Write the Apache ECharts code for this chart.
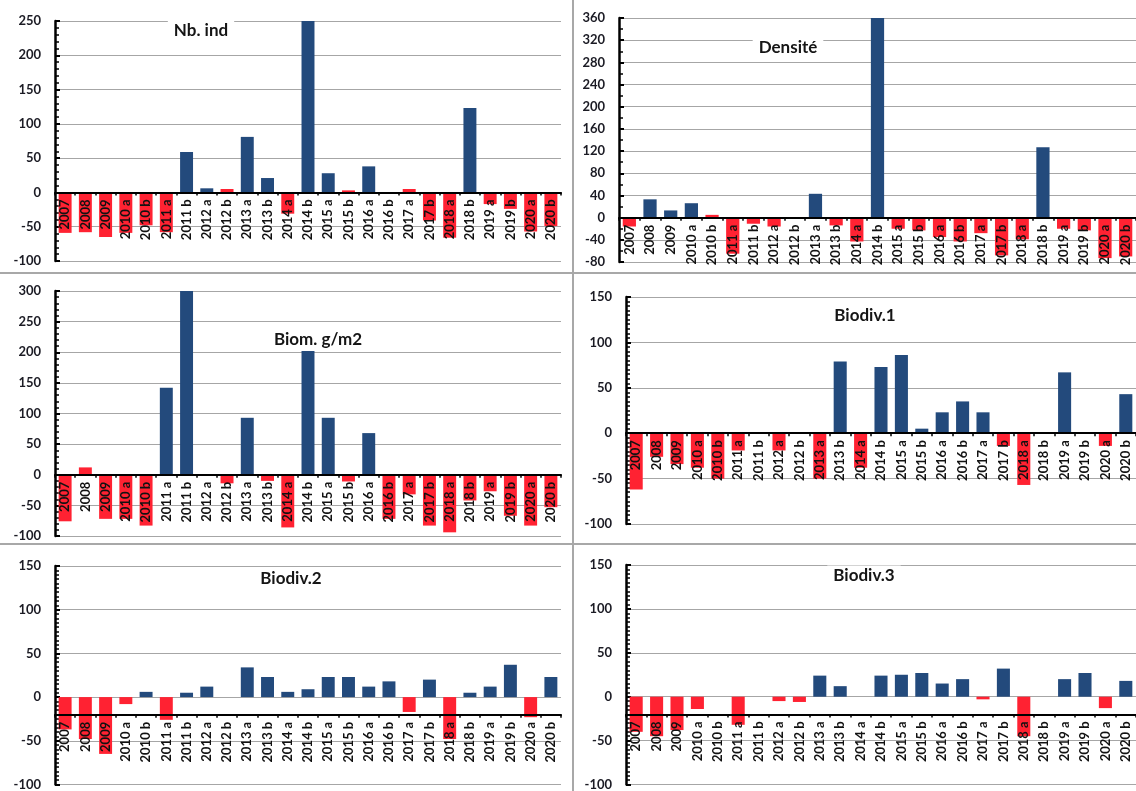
<!DOCTYPE html>
<html>
<head>
<meta charset="utf-8">
<script src="https://cdn.jsdelivr.net/npm/echarts@6/dist/echarts.min.js"></script>
<style>
  html, body { margin: 0; padding: 0; background: #fff; }
  #chart { width: 1136px; height: 791px; }
</style>
</head>
<body>
<div id="chart"></div>
<script>
// Campaigns (yearly, then two campaigns a/b per year from 2010)
const categories = ['2007', '2008', '2009', '2010 a', '2010 b', '2011 a', '2011 b', '2012 a', '2012 b',
  '2013 a', '2013 b', '2014 a', '2014 b', '2015 a', '2015 b', '2016 a', '2016 b', '2017 a', '2017 b',
  '2018 a', '2018 b', '2019 a', '2019 b', '2020 a', '2020 b'];

// Variation (%) per campaign, and alert flag (1 = flagged campaign)
const nbIndValues   = [-59, -58, -65, -59, -48, -58, 59, 6, 5, 81, 21, -31, 250, 28, 3, 38, 0, 5, -41, -66, 123, -17, -24, -57, -49];
const nbIndFlags    = [1, 1, 1, 1, 1, 1, 0, 0, 1, 0, 0, 1, 0, 0, 1, 0, 0, 1, 1, 1, 0, 1, 1, 1, 1];

const densiteValues = [-16, 33, 13, 26, 5, -65, -11, -16, 0, 43, -14, -43, 360, -20, -23, -35, -43, -28, -68, -39, 127, -20, -23, -73, -70];
const densiteFlags  = [1, 0, 0, 0, 1, 1, 1, 1, 0, 0, 1, 1, 0, 1, 1, 1, 1, 1, 1, 1, 0, 1, 1, 1, 1];

const biomValues    = [-76, 12, -72, -72, -83, 142, 300, 0, -14, 93, -10, -86, 202, 93, -11, 68, -72, -32, -83, -94, -42, -27, -67, -83, -53];
const biomFlags     = [1, 1, 1, 1, 1, 0, 0, 0, 1, 0, 1, 1, 0, 0, 1, 0, 1, 1, 1, 1, 1, 1, 1, 1, 1];

const biodiv1Values = [-62, -26, -34, -38, -50, -19, 0, -19, 0, -50, 79, -38, 73, 86, 5, 23, 35, 23, -14, -57, 0, 67, 0, -14, 43];
const biodiv1Flags  = [1, 1, 1, 1, 1, 1, 0, 1, 0, 1, 0, 1, 0, 0, 0, 0, 0, 0, 1, 1, 0, 0, 0, 1, 0];

const biodiv2Values = [-37, -48, -65, -8, 6, -26, 5, 12, 0, 34, 23, 6, 9, 23, 23, 12, 18, -17, 20, -48, 5, 12, 37, -23, 23];
const biodiv2Flags  = [1, 1, 1, 1, 0, 1, 0, 0, 0, 0, 0, 0, 0, 0, 0, 0, 0, 1, 0, 1, 0, 0, 0, 1, 0];

const biodiv3Values = [-40, -45, -38, -14, 0, -32, 0, -5, -6, 24, 12, 0, 24, 25, 27, 15, 20, -3, 32, -45, 0, 20, 27, -13, 18];
const biodiv3Flags  = [1, 1, 1, 1, 0, 1, 0, 1, 1, 0, 0, 0, 0, 0, 0, 0, 0, 1, 0, 1, 0, 0, 0, 1, 0];

const panelTitles = ['Nb. ind', 'Densité', 'Biom. g/m2', 'Biodiv.1', 'Biodiv.2', 'Biodiv.3'];

const BLUE = '#234A7C';
const RED = '#FF2232';
const FONT = 'Lato';

const panels = [
  { title: panelTitles[0], values: nbIndValues,   flags: nbIndFlags,   min: -100, max: 250, interval: 50, minor: 5,
    grid: { left: 55, right: 575, top: 21, bottom: 530 },   titlePos: [201, 31] },
  { title: panelTitles[1], values: densiteValues, flags: densiteFlags, min: -80,  max: 360, interval: 40, minor: 2,
    grid: { left: 619, right: -3, top: 18, bottom: 529 },   titlePos: [788, 48] },
  { title: panelTitles[2], values: biomValues,    flags: biomFlags,    min: -100, max: 300, interval: 50, minor: 5,
    grid: { left: 55, right: 575, top: 291, bottom: 255 },  titlePos: [318, 340] },
  { title: panelTitles[3], values: biodiv1Values, flags: biodiv1Flags, min: -100, max: 150, interval: 50, minor: 10,
    grid: { left: 626, right: -3, top: 297, bottom: 267 },  titlePos: [865, 316] },
  { title: panelTitles[4], values: biodiv2Values, flags: biodiv2Flags, min: -100, max: 150, interval: 50, minor: 10,
    grid: { left: 55, right: 575, top: 566, bottom: 4 },    titlePos: [291, 579] },
  { title: panelTitles[5], values: biodiv3Values, flags: biodiv3Flags, min: -100, max: 150, interval: 50, minor: 10,
    grid: { left: 626, right: -3, top: 565, bottom: 4 },    titlePos: [864, 576] }
];

const option = {
  animation: false,
  backgroundColor: '#fff',
  grid: panels.map(p => Object.assign({ containLabel: false }, p.grid)),
  xAxis: panels.map((p, i) => ({
    type: 'category',
    gridIndex: i,
    data: categories,
    z: 5,
    axisLine: { onZero: false, lineStyle: { color: '#000', width: 2 } },
    axisTick: { show: true, length: 3, lineStyle: { color: '#000', width: 1.5 } },
    axisLabel: {
      interval: 0, rotate: 90, margin: 7,
      fontFamily: FONT, fontSize: 13, fontWeight: 'bold', color: '#111'
    },
    splitLine: { show: false }
  })),
  yAxis: panels.map((p, i) => ({
    type: 'value',
    gridIndex: i,
    min: p.min, max: p.max, interval: p.interval,
    axisLine: { show: true, lineStyle: { color: '#000', width: 2.5 } },
    axisTick: { show: true, inside: true, length: 5, lineStyle: { color: '#000', width: 2 } },
    minorTick: { show: true, splitNumber: p.minor, length: 4, lineStyle: { color: '#000', width: 1.5 } },
    axisLabel: { margin: 14, fontFamily: FONT, fontSize: 13, fontWeight: 'bold', color: '#1b1b24' },
    splitLine: { show: true, lineStyle: { color: '#a6a6a6', width: 1 } }
  })),
  series: panels.map((p, i) => ({
    type: 'bar',
    xAxisIndex: i,
    yAxisIndex: i,
    barWidth: '64%',
    clip: true,
    data: p.values.map((v, k) => ({
      value: v,
      itemStyle: { color: p.flags[k] ? RED : BLUE }
    }))
  })),
  graphic: [
    { type: 'line', z: 50, shape: { x1: 573, y1: 0, x2: 573, y2: 791 }, style: { stroke: '#a8a8a8', lineWidth: 2 } },
    { type: 'line', z: 50, shape: { x1: 0, y1: 273, x2: 1136, y2: 273 }, style: { stroke: '#a8a8a8', lineWidth: 2 } },
    { type: 'line', z: 50, shape: { x1: 0, y1: 544, x2: 1136, y2: 544 }, style: { stroke: '#a8a8a8', lineWidth: 2 } }
  ].concat(panels.map(p => ({
    type: 'text',
    z: 60,
    x: p.titlePos[0],
    y: p.titlePos[1],
    style: {
      text: p.title,
      align: 'center',
      verticalAlign: 'middle',
      font: 'bold 17px ' + FONT,
      fill: '#151515',
      backgroundColor: '#fff',
      padding: [2, 6]
    }
  })))
};

const chart = echarts.init(document.getElementById('chart'), null, { renderer: 'canvas' });
chart.setOption(option);

// Place each category axis (line, ticks and labels) on the zero level of its value axis
chart.setOption({
  xAxis: panels.map((p, i) => {
    const zeroY = chart.convertToPixel({ yAxisIndex: i }, 0);
    const baseY = chart.convertToPixel({ yAxisIndex: i }, p.min);
    return { offset: zeroY - baseY };
  })
});
</script>
</body>
</html>
